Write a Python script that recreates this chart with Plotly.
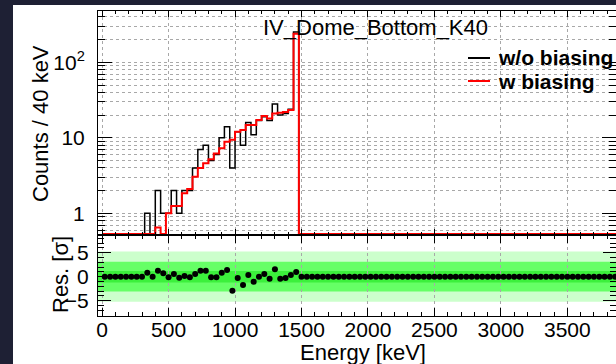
import plotly.graph_objects as go

# ---------------- data ----------------
bin_width = 40
bin_low = list(range(0, 4000, bin_width))          # 100 bins, 0-4000 keV
bin_edges = bin_low + [4000]
bin_center = [b + bin_width / 2 for b in bin_low]

# counts / 40 keV, without biasing (black)
counts_wo = ([0, 0, 0, 0, 0, 0, 0, 0, 1, 0,
              2, 1, 1, 2, 1, 2, 2, 4, 7, 8,
              5, 6, 10, 14, 4, 12, 8, 16, 11, 17,
              19, 17, 28, 20, 21, 24, 252] + [0] * 63)

# counts / 40 keV, with biasing (red)
counts_w = ([0, 0, 0, 0, 0, 0, 0, 0, 0, 0,
             0.65, 0, 1.0, 1.25, 1.25, 1.85, 2.1, 3.06, 4.0, 4.6,
             5.2, 6.2, 7.3, 8.9, 9.4, 12.0, 12.7, 14.8, 14.8, 17.2,
             19.4, 18.1, 21.0, 21.5, 22.0, 23.4, 240] + [0] * 63)

# residuals [sigma]
residuals = ([0, 0, 0, 0, 0, 0, 0, 0, 0.83, 0,
              1.25, 0.7, -0.14, 0.56, -0.2, 0.14, -0.14, 0.56, 1.25, 1.25,
              -0.14, -0.14, 0.83, 1.39, -2.92, -0.28, -1.74, 0.35, -1.04, 0.0,
              0.56, -0.42, 1.53, -0.42, -0.28, 0.35, 0.97] + [0] * 63)

x_ticks = [0, 500, 1000, 1500, 2000, 2500, 3000, 3500]
y_ticks = [1, 10, 100]
y_ticktext = ["1", "10", "10<sup>2</sup>"]
y_minor = ([0.6, 0.7, 0.8, 0.9] + [2, 3, 4, 5, 6, 7, 8, 9] +
           [20, 30, 40, 50, 60, 70, 80, 90] + [200, 300, 400])
res_ticks = [-5, 0, 5]
res_ticktext = ["\u22125", "0", "5"]
title_text = "IV_Dome_Bottom_K40"
legend_names = ["w/o biasing", "w biasing"]

# ---------------- layout geometry ----------------
FONT = "Liberation Sans, Arial, Helvetica, sans-serif"
W, H = 616, 364
ML, MR, MT, MB = 98, 0, 11, 48
PW = W - ML - MR
PH = H - MT - MB
lower_h = 81
split = lower_h / PH
x_range = [-31, 3866]
y_log_range = [-0.287, 2.68]
floor = 10 ** (y_log_range[0] + 0.012)


def px_x(px):
    return (px - ML) / PW


def px_y(py):
    return (H - MB - py) / PH


def step_y(vals):
    v = [max(c, floor) for c in vals]
    return v + [v[-1]]


fig = go.Figure()

fig.add_trace(go.Scatter(x=bin_edges, y=step_y(counts_wo), mode="lines",
                         line=dict(color="black", width=1.5, shape="hv"),
                         xaxis="x", yaxis="y", showlegend=False,
                         name=legend_names[0]))
fig.add_trace(go.Scatter(x=bin_edges, y=step_y(counts_w), mode="lines",
                         line=dict(color="#ff0000", width=2, shape="hv"),
                         xaxis="x", yaxis="y", showlegend=False,
                         name=legend_names[1]))
fig.add_trace(go.Scatter(x=bin_center, y=residuals, mode="markers",
                         marker=dict(color="black", size=6),
                         xaxis="x2", yaxis="y2", showlegend=False,
                         cliponaxis=False))

grid = dict(showgrid=True, gridcolor="#a8a8a8", griddash="dot", gridwidth=1)
axis_common = dict(showline=True, linecolor="black", linewidth=1,
                   mirror="ticks", ticks="inside", tickcolor="black",
                   zeroline=False)

shapes = [
    # white canvas over the dark background
    dict(type="rect", xref="paper", yref="paper",
         x0=px_x(13), x1=px_x(W + 5), y0=px_y(H + 5), y1=px_y(5),
         fillcolor="white", line=dict(width=0), layer="below"),
    # sigma bands
    dict(type="rect", xref="x2", yref="y2", x0=x_range[0], x1=x_range[1],
         y0=-5.25, y1=5.25, fillcolor="#ccffcc", line=dict(width=0), layer="below"),
    dict(type="rect", xref="x2", yref="y2", x0=x_range[0], x1=x_range[1],
         y0=-3.1, y1=3.1, fillcolor="#66ff66", line=dict(width=0), layer="below"),
    dict(type="rect", xref="x2", yref="y2", x0=x_range[0], x1=x_range[1],
         y0=-1.2, y1=1.2, fillcolor="#3cf03c", line=dict(width=0), layer="below"),
    # legend lines
    dict(type="line", xref="paper", yref="paper",
         x0=px_x(468), x1=px_x(490), y0=px_y(58), y1=px_y(58),
         line=dict(color="black", width=2)),
    dict(type="line", xref="paper", yref="paper",
         x0=px_x(468), x1=px_x(490), y0=px_y(81), y1=px_y(81),
         line=dict(color="#ff0000", width=2)),
]

annotations = [
    dict(text=title_text, xref="paper", yref="paper", x=px_x(375.5), y=px_y(28),
         xanchor="center", yanchor="middle", showarrow=False,
         font=dict(family=FONT, size=22, color="black")),
    dict(text="<b>" + legend_names[0] + "</b>", xref="paper", yref="paper",
         x=px_x(496), y=px_y(58), xanchor="left", yanchor="middle", showarrow=False,
         font=dict(family=FONT, size=21, color="black")),
    dict(text="<b>" + legend_names[1] + "</b>", xref="paper", yref="paper",
         x=px_x(496), y=px_y(81), xanchor="left", yanchor="middle", showarrow=False,
         font=dict(family=FONT, size=21, color="black")),
    dict(text="Counts / 40 keV", xref="paper", yref="paper", x=px_x(41), y=px_y(124),
         xanchor="center", yanchor="middle", textangle=-90, showarrow=False,
         font=dict(family=FONT, size=22, color="black")),
    dict(text="Res. [\u03c3]", xref="paper", yref="paper", x=px_x(60), y=px_y(275),
         xanchor="center", yanchor="middle", textangle=-90, showarrow=False,
         font=dict(family=FONT, size=22, color="black")),
    dict(text="Energy [keV]", xref="paper", yref="paper", x=px_x(363), y=px_y(352),
         xanchor="center", yanchor="middle", showarrow=False,
         font=dict(family=FONT, size=22, color="black")),
]

fig.update_layout(
    width=W, height=H,
    margin=dict(l=ML, r=MR, t=MT, b=MB, pad=0),
    paper_bgcolor="#1e2034", plot_bgcolor="white",
    font=dict(family=FONT, size=21, color="black"),
    showlegend=False,
    shapes=shapes, annotations=annotations,
    xaxis=dict(domain=[0, 1], anchor="y", range=x_range, matches="x2",
               showticklabels=False, tickmode="array", tickvals=x_ticks,
               ticklen=6, tickwidth=1,
               minor=dict(dtick=100, tick0=0, ticks="inside", ticklen=3,
                          tickcolor="black", showgrid=False),
               **grid, **axis_common),
    yaxis=dict(domain=[split, 1], anchor="x", type="log", range=y_log_range,
               tickmode="array", tickvals=y_ticks, ticktext=y_ticktext,
               ticklen=14, tickwidth=1, ticklabelstandoff=8,
               tickfont=dict(family=FONT, size=21, color="black"),
               minor=dict(tickmode="array", tickvals=y_minor, ticks="inside",
                          ticklen=7, tickcolor="black", showgrid=True,
                          gridcolor="#a8a8a8", griddash="dot", gridwidth=1),
               **grid, **axis_common),
    xaxis2=dict(domain=[0, 1], anchor="y2", range=x_range,
                tickmode="array", tickvals=x_ticks,
                ticklen=8, tickwidth=1, ticklabelstandoff=-5,
                tickfont=dict(family=FONT, size=21, color="black"),
                minor=dict(dtick=100, tick0=0, ticks="inside", ticklen=4,
                           tickcolor="black", showgrid=False),
                **grid, **axis_common),
    yaxis2=dict(domain=[0, split], anchor="x2", range=[-8.2, 8.7],
                tickmode="array", tickvals=res_ticks, ticktext=res_ticktext,
                ticklen=13, tickwidth=1, ticklabelstandoff=4,
                tickfont=dict(family=FONT, size=21, color="black"),
                minor=dict(dtick=1, tick0=0, ticks="inside", ticklen=6,
                           tickcolor="black", showgrid=False),
                showgrid=False, **axis_common),
)

fig.write_html("out.html")
